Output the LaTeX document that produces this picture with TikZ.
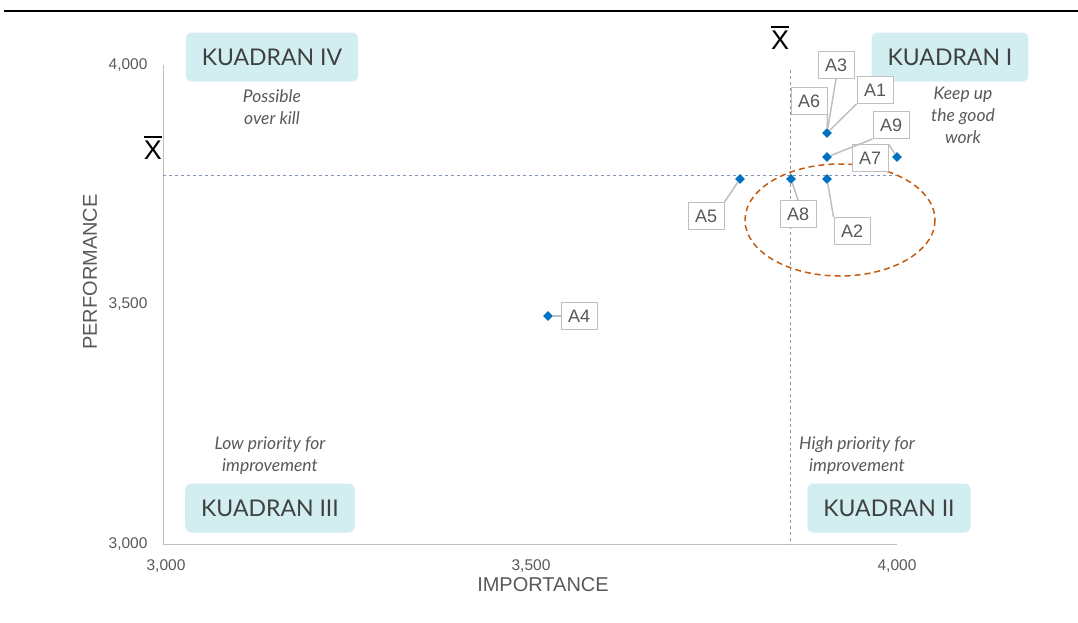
\documentclass[tikz,border=0pt]{standalone}
\usepackage{fontspec}
\setmainfont{Liberation Sans}
\newfontfamily\quadfont{Lato}
\usetikzlibrary{shapes.geometric,positioning}
\definecolor{quadfill}{HTML}{D2EEF0}
\definecolor{txtgray}{HTML}{595959}
\definecolor{darkgray}{HTML}{404040}
\definecolor{axisgray}{HTML}{BFBFBF}
\definecolor{meanline}{HTML}{8497B0}
\definecolor{markblue}{HTML}{0070C0}
\definecolor{ovalorange}{HTML}{C55A11}
\newcommand{\xmean}{\ooalign{X\cr\hidewidth\rule[0.8em]{0.7em}{0.06em}\hidewidth\cr}}
\tikzstyle{quadrant} = [rectangle, rounded corners=6pt, fill=quadfill, text=darkgray, font=\quadfont\fontsize{23}{26}\selectfont, inner xsep=16pt, minimum height=49pt]
\tikzstyle{note} = [text=txtgray, font=\quadfont\itshape\fontsize{17.5}{22}\selectfont, align=center]
\tikzstyle{point} = [diamond, fill=markblue, inner sep=0pt, minimum size=10pt]
\tikzstyle{callout} = [rectangle, draw=axisgray, line width=1pt, fill=white, text=txtgray, font=\fontsize{18}{20}\selectfont, inner xsep=7pt, minimum height=27pt]
\tikzstyle{leader} = [draw=axisgray, line width=1.5pt]
\tikzstyle{tick} = [text=txtgray, font=\fontsize{15.5}{18}\selectfont]
\tikzstyle{axistitle} = [text=txtgray, font=\fontsize{20}{24}\selectfont]
\tikzstyle{axis} = [draw=axisgray, line width=1pt]
\tikzstyle{mean} = [draw=meanline, line width=0.8pt, dash pattern=on 3pt off 3pt]
\tikzstyle{xbar} = [font=\fontsize{27}{32}\selectfont]

\begin{document}
\begin{tikzpicture}[x=1pt,y=-1pt]
    \useasboundingbox (0,0) rectangle (1078,622);
    \draw[line width=2pt] (4,11) -- (1078,11);

    % axes and means
    \coordinate (origin) at (163,544);
    \coordinate (ytop) at (163,65);
    \coordinate (xend) at (897,544);
    \draw[axis] (ytop) -- (origin) -- (xend);
    \draw[mean] (790,70) -- (790,544);
    \draw[mean] (163,175) -- (897,175);
    \draw[draw=ovalorange, line width=1.5pt, dash pattern=on 6pt off 4pt] (840,220) ellipse [x radius=95, y radius=56];

    \node[tick, anchor=east] at (151,65) {4,000};
    \node[tick, anchor=east] at (151,304) {3,500};
    \node[tick, anchor=east] at (151,544) {3,000};
    \node[tick] at (166,566) {3,000};
    \node[tick] at (531,566) {3,500};
    \node[tick] at (897,566) {4,000};
    \node[axistitle, rotate=90] at (90,272) {PERFORMANCE};
    \node[axistitle] at (543,585) {IMPORTANCE};
    \node[xbar] (xtop) at (780,40) {\xmean};
    \node[xbar] (xleft) at (153,150) {\xmean};

    % quadrants
    \node[quadrant] (q4) at (272,57) {KUADRAN IV};
    \node[quadrant] (q1) at (950,57) {KUADRAN I};
    \node[quadrant] (q3) at (270,508) {KUADRAN III};
    \node[quadrant] (q2) at (889,508) {KUADRAN II};
    \node[note, below=4pt of q4] {Possible\\over kill};
    \node[note, below=2pt of q1, xshift=13pt] {Keep up\\the good\\work};
    \node[note, above=5pt of q3] {Low priority for\\improvement};
    \node[note, above=5pt of q2, xshift=-32pt] {High priority for\\improvement};

    % attributes
    \node[point] (pA1) at (827,133) {};
    \node[point] (pA2) at (827,179) {};
    \node[point] (pA4) at (548,316) {};
    \node[point] (pA5) at (740,179) {};
    \node[point] (pA7) at (897,157) {};
    \node[point] (pA8) at (791,179) {};
    \node[point] (pA9) at (827,157) {};

    \node[callout] (lA3) at (836,65) {A3};
    \node[callout] (lA6) at (809,101) {A6};
    \node[callout] (lA1) at (875,90) {A1};
    \node[callout] (lA9) at (891,125) {A9};
    \node[callout] (lA7) at (870,158) {A7};
    \node[callout] (lA5) at (706,216) {A5};
    \node[callout] (lA8) at (798,214) {A8};
    \node[callout] (lA2) at (852,231) {A2};
    \node[callout] (lA4) at (579,316) {A4};

    \draw[leader] (lA3.south) -- (pA1);
    \draw[leader] (lA6.south east) -- (pA1);
    \draw[leader] (lA1.south west) -- (pA1);
    \draw[leader] (lA9.south west) -- (pA9);
    \draw[leader] (lA7.north east) -- (pA7);
    \draw[leader] (lA5.north east) -- (pA5);
    \draw[leader] (lA8.north) -- (pA8);
    \draw[leader] (lA2.north west) -- (pA2);
    \draw[leader] (lA4.west) -- (pA4);
\end{tikzpicture}
\end{document}
